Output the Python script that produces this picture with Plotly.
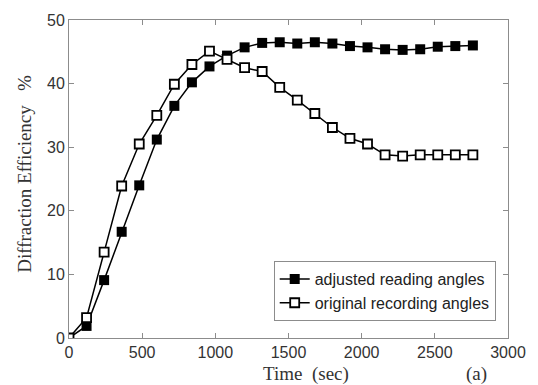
import plotly.graph_objects as go

time_sec = [0, 120, 240, 360, 480, 600, 720, 840, 960, 1080, 1200, 1320,
            1440, 1560, 1680, 1800, 1920, 2040, 2160, 2280, 2400, 2520, 2640, 2760]
adjusted = [0, 1.9, 9.1, 16.7, 24.0, 31.2, 36.5, 40.2, 42.7, 44.4, 45.7, 46.4,
            46.5, 46.3, 46.5, 46.3, 45.9, 45.7, 45.4, 45.3, 45.4, 45.8, 45.9, 46.0]
original = [0, 3.2, 13.5, 23.9, 30.5, 35.0, 39.9, 43.0, 45.1, 43.8, 42.5, 41.9,
            39.4, 37.4, 35.3, 33.1, 31.4, 30.5, 28.8, 28.6, 28.8, 28.8, 28.8, 28.8]

x_ticks = [0, 500, 1000, 1500, 2000, 2500, 3000]
y_ticks = [0, 10, 20, 30, 40, 50]

fig = go.Figure()
fig.add_trace(go.Scatter(
    x=time_sec, y=adjusted, mode="lines+markers", name="adjusted reading angles",
    line=dict(color="black", width=1.5),
    marker=dict(symbol="square", size=10, color="black"),
))
fig.add_trace(go.Scatter(
    x=time_sec, y=original, mode="lines+markers", name="original recording angles",
    line=dict(color="black", width=1.5),
    marker=dict(symbol="square", size=9, color="white",
                line=dict(color="black", width=1.8)),
))

axis_common = dict(
    showline=True, linecolor="#8c8c8c", linewidth=1, mirror="ticks",
    ticks="inside", ticklen=5, tickcolor="#8c8c8c", showgrid=False, zeroline=False,
    tickfont=dict(family="Liberation Sans, Arial", size=16, color="#333333"),
)

fig.update_layout(
    width=538, height=385,
    margin=dict(l=69, r=23, t=16, b=47),
    paper_bgcolor="white", plot_bgcolor="white",
    showlegend=True,
    legend=dict(
        x=0.972, y=0.242, xanchor="right", yanchor="top",
        bgcolor="white", bordercolor="#8c8c8c", borderwidth=1,
        font=dict(family="Liberation Sans, Arial", size=16, color="#222222"),
        itemwidth=30, tracegroupgap=0,
    ),
    xaxis=dict(range=[0, 3000], tickvals=x_ticks, **axis_common),
    yaxis=dict(range=[0, 50], tickvals=y_ticks, **axis_common),
)

serif = dict(family="Liberation Serif, Times New Roman", size=19, color="#333333")
fig.add_annotation(text="Time  (sec)", xref="paper", yref="paper",
                   x=(310 - 69) / 446, y=(338 - 374) / 322,
                   showarrow=False, font=serif, xanchor="center", yanchor="middle")
fig.add_annotation(text="(a)", xref="paper", yref="paper",
                   x=(483 - 69) / 446, y=(338 - 374) / 322,
                   showarrow=False, font=serif, xanchor="center", yanchor="middle")
fig.add_annotation(text="Diffraction Efficiency   %", xref="paper", yref="paper",
                   x=(23 - 69) / 446, y=(338 - 172) / 322, textangle=-90,
                   showarrow=False, font=serif,
                   xanchor="center", yanchor="middle")

fig.write_html("out.html", config={"displayModeBar": False},
               post_script="document.body.style.margin='0';document.body.style.overflow='hidden';")
